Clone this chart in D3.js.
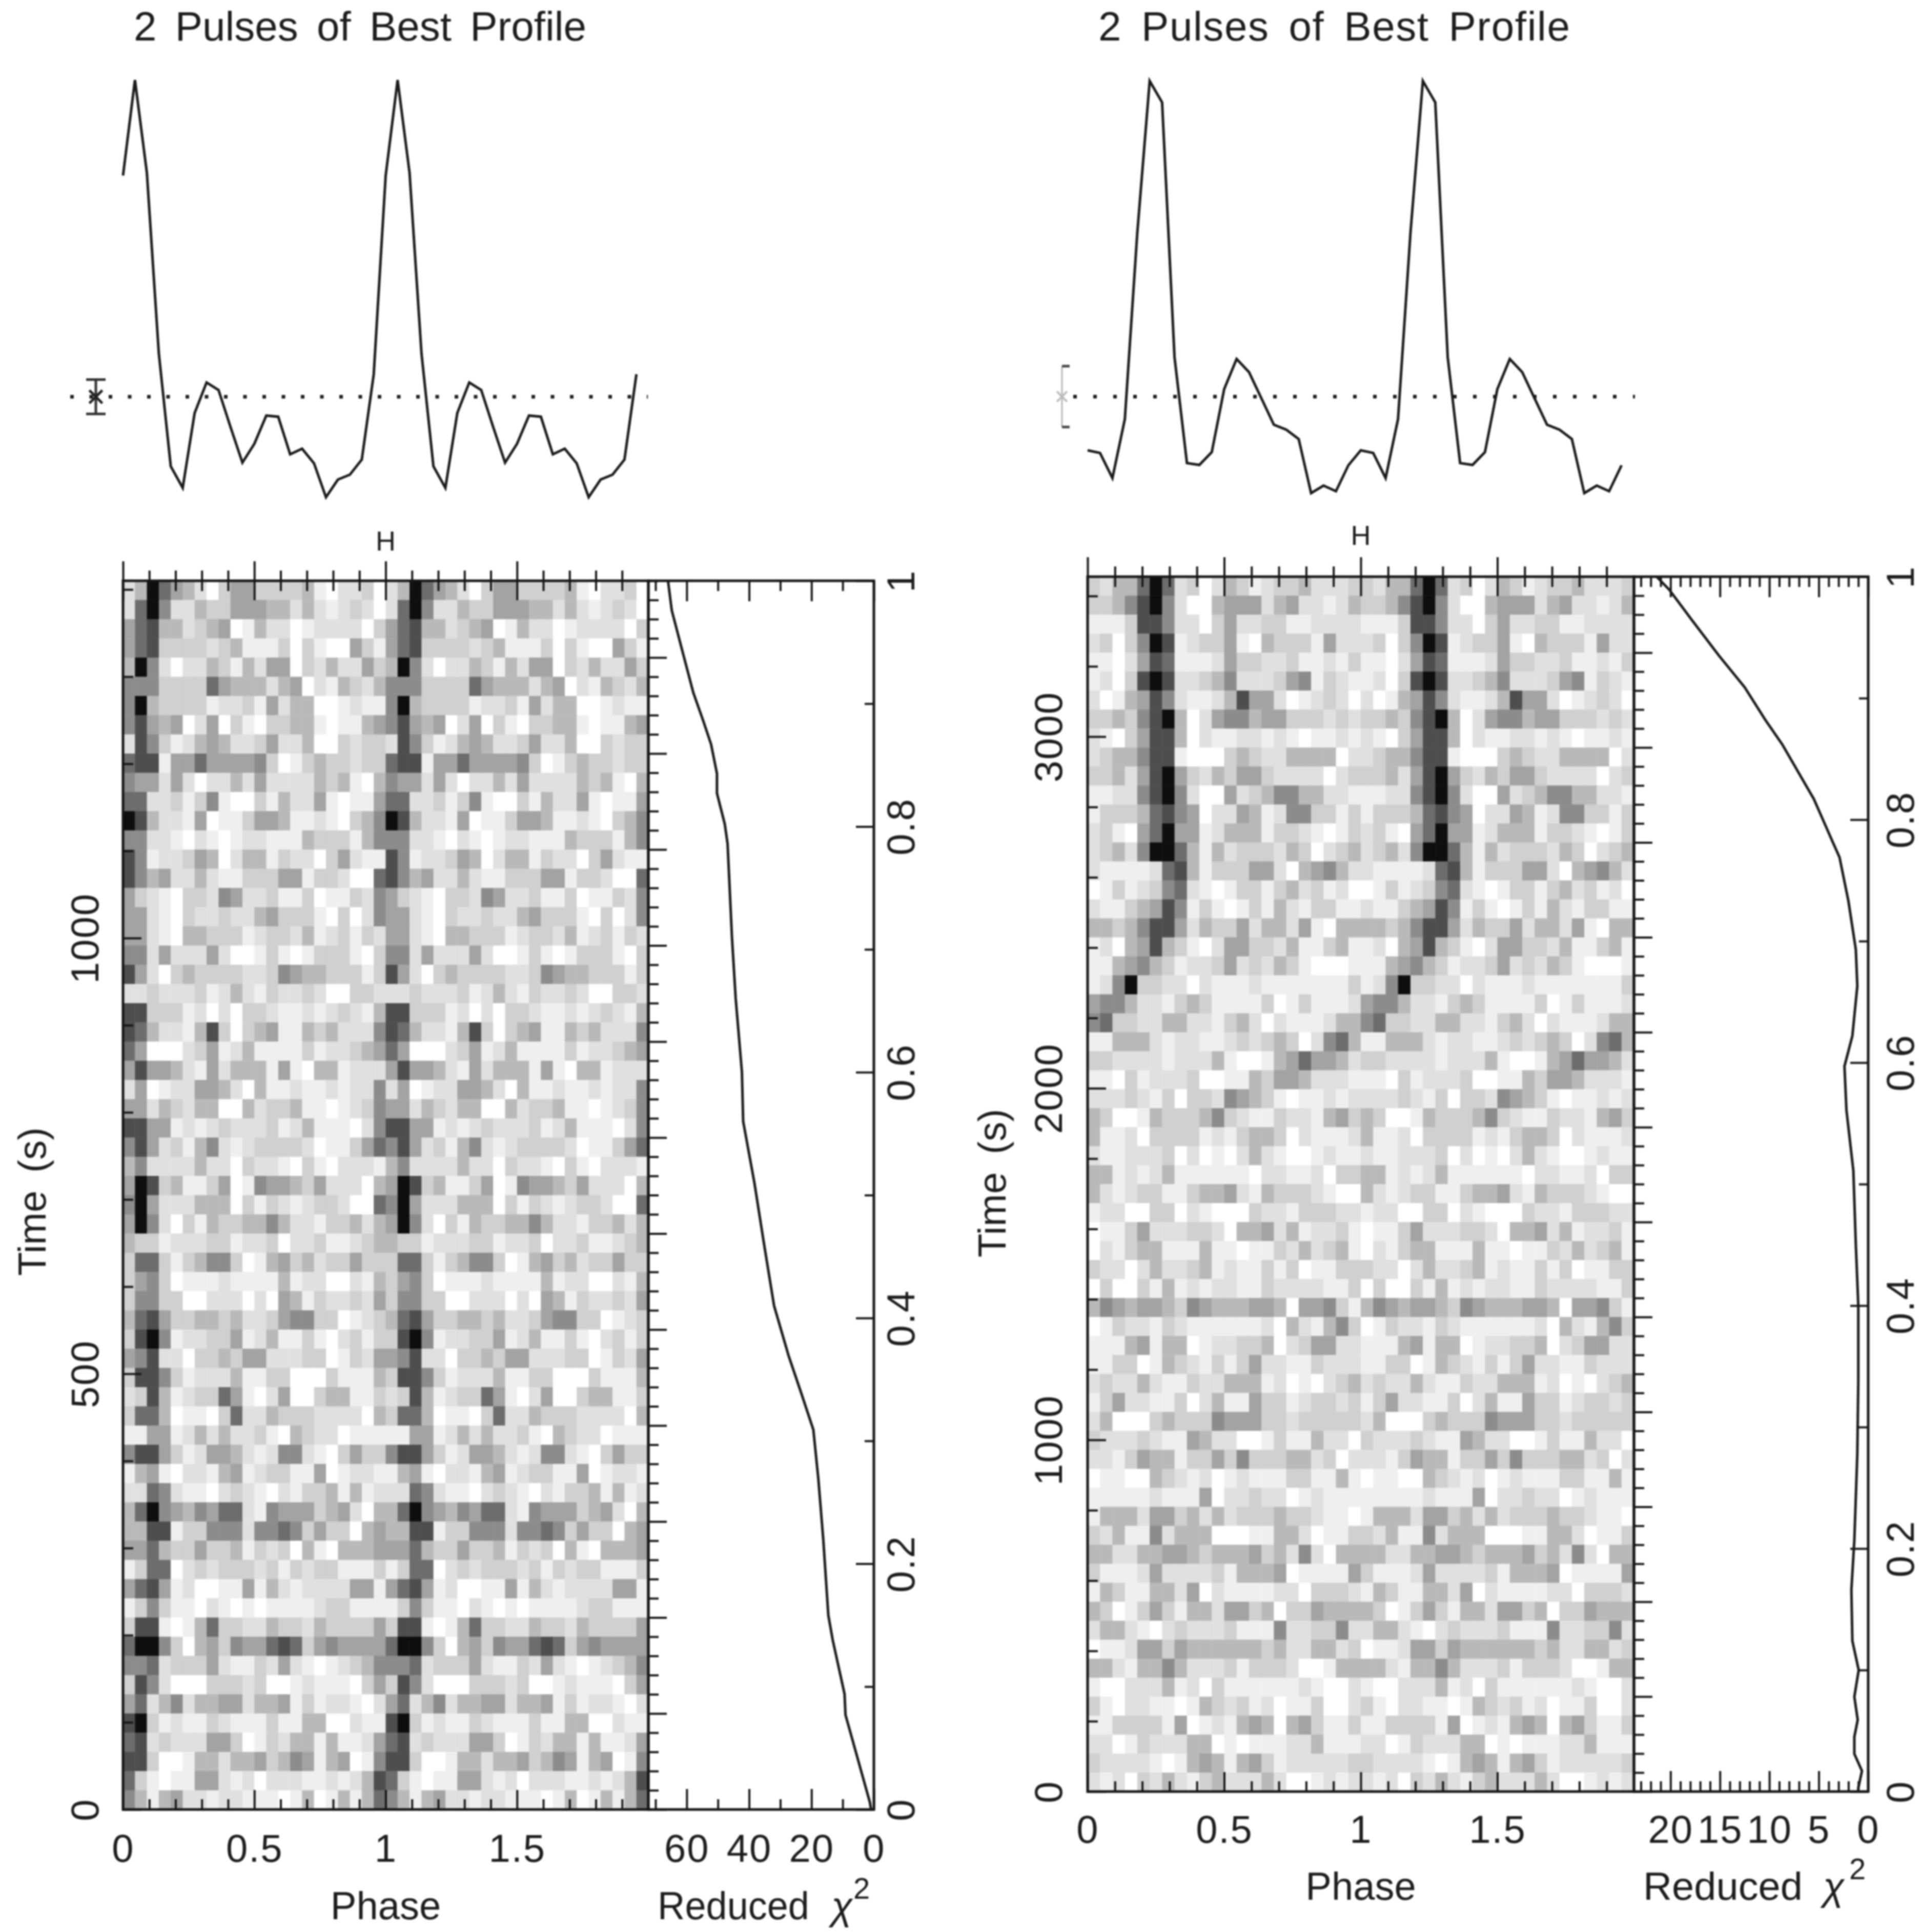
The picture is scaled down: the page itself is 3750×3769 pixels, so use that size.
<!DOCTYPE html>
<html>
<head>
<meta charset="utf-8">
<script src="https://cdn.jsdelivr.net/npm/d3@7"></script>
<style>
  html, body { margin: 0; background: #fff; }
  svg { display: block; filter: blur(1.5px); }
  text { font-family: "Liberation Sans", sans-serif; fill: #1c1c1c; }
  .tick line { stroke: #151515; }
</style>
</head>
<body>
<script>
// grey level of each sub-integration: 0 white .. 9 black, top row first, one pulse
var leftRows = [
  '24975 42035 533334 102230', '27962 24335 554424 212320', '57844 23450 142201 222203', '57833 33234 111303 100531',
  '49620 22431 425503 242253', '66633 33754 442450 214324', '69433 33122 315244 001211', '68545 02503 103344 101145',
  '28631 24542 235224 003233', '78815 57555 563013 433233', '65525 20224 252222 434104', '77223 13610 031422 510115',
  '98422 15011 355411 210346', '66221 02101 221114 333146', '86122 35402 441322 035211', '86452 24211 333551 332007',
  '53210 33265 223113 011326', '55210 32232 245333 103026', '55210 44333 123324 123132', '66252 22520 013101 333103',
  '85203 43333 223654 433313', '22322 23124 213223 200332', '88333 12020 332112 123214', '87422 14830 345114 342226',
  '75000 23512 411113 122345', '58554 21524 441510 441222', '25012 25542 041121 121226', '55243 24400 423341 101236',
  '88551 21232 223124 111026', '68523 14621 233332 011357', '46222 24220 322103 102221', '59834 11350 165543 522204',
  '69522 24440 313212 332007', '59620 31433 446422 133424', '43312 22331 223022 311234', '37731 34663 014534 233533',
  '35630 11121 111412 200214', '36633 00222 020541 322325', '47853 34434 223566 330123', '38961 22335 124113 102313',
  '56822 03343 552223 301325', '38863 12224 113300 031114', '23841 23375 102500 344113', '37740 11037 224333 222204',
  '11551 24242 231043 220111', '68853 12554 212662 103533', '14510 22145 123311 501221', '22762 11023 210213 341412',
  '47965 46577 216555 345204', '44881 33666 266763 533045', '55743 35334 132304 104445', '13770 23233 323132 331113',
  '57851 20011 514212 222551', '13631 10210 101111 233111', '38810 14733 224332 433335', '79963 04536 557873 565555',
  '66723 33521 132521 012346', '38620 00333 230012 111035', '57246 24455 244513 122102', '89312 11321 113114 400211',
  '78232 22553 013244 141125', '88300 14424 453465 145016', '73101 15521 202221 121248', '64145 22122 111014 014147'
];
var rightRows = [
  '32447 97230 243123 342223', '33468 96200 455524 522124', '11138 86220 352233 112222', '23036 98123 351043 331522',
  '11025 87111 253322 311213', '12038 98223 462223 561321', '20145 86211 248552 012320', '33436 89402 566455 333232',
  '21035 88402 112212 101121', '23446 88100 034322 444402', '33425 89532 435532 222023', '11226 89620 052346 644221',
  '13334 78650 225412 663313', '23105 79551 244413 321013', '23426 99741 423332 430234', '21111 27841 333552 045642',
  '01312 36721 013313 423120', '21134 58613 101314 213311', '44346 88524 335244 251044', '12045 84310 255332 411341',
  '11456 43122 352324 310001', '12693 32202 111211 111113', '56642 21343 111130 131112', '67332 24422 134202 111244',
  '11444 21221 123234 302674', '33222 21222 410014 575542', '11031 22230 011435 542221', '22232 13033 265431 011212',
  '43001 43334 632113 221453', '41120 33331 213443 021112', '21122 23020 102421 001211', '44121 24111 111022 112033',
  '42123 31134 452143 332100', '12200 33021 000322 133322', '01135 22233 204452 412231', '02134 41114 110113 242341',
  '32202 42234 121131 301133', '03003 14121 221132 222113', '46545 54365 444554 055631', '01322 13211 111120 421463',
  '11145 14401 223340 235522', '11330 14321 313522 113222', '23224 21132 244412 010234', '13522 11302 411533 123323',
  '24000 34333 655533 233333', '32223 21154 220013 114220', '22135 44133 536333 442302', '01100 43212 012111 331141',
  '11111 21115 022322 012111', '14442 55342 423334 332110', '32411 62444 000114 420113', '44224 45543 444534 262044',
  '31112 52222 314445 011115', '14311 44250 211112 203332', '43013 53144 255340 335444', '24421 02322 231116 223362',
  '01125 53544 444434 224423', '44214 46422 231333 200144', '10022 24120 311111 121002', '31022 11014 323120 113002',
  '11333 31501 214540 453113', '22013 22244 010111 224111', '32222 10145 414531 222223', '21203 24213 422242 001212'
];

// pulse profile, one period, dotted mean line = 0
var leftProfile = [5.88, 8.42, 5.95, 1.15, -1.85, -2.42, -0.43, 0.38, 0.18, -0.80, -1.75, -1.25, -0.50, -0.53, -1.53, -1.38, -1.77, -2.67, -2.20, -2.07, -1.67, 0.60];
var rightProfile = [-1.43, -1.50, -2.17, -0.60, 4.35, 8.40, 7.83, 1.05, -1.77, -1.82, -1.48, 0.20, 1.00, 0.65, -0.05, -0.75, -0.88, -1.13, -2.57, -2.37, -2.52, -1.83];

// reduced chi2 against fraction of observation
var leftChi = [66.0, 64.8, 61.0, 57.9, 54.7, 52.2, 50.3, 50.3, 47.8, 46.9, 45.5, 44.3, 42.3, 41.9, 38.3, 35.2, 32.0, 27.3, 23.3, 19.4, 17.8, 16.2, 14.6, 13.2, 9.4, 9.1, 1.3, 0.9];
var leftFrac = [1, .976, .939, .909, .886, .867, .843, .827, .802, .786, .71, .66, .60, .56, .51, .46, .41, .369, .339, .309, .269, .219, .158, .138, .094, .077, .006, 0];
var rightChi = [21.4, 20.1, 17.9, 15.1, 12.5, 10.4, 8.7, 5.5, 3.5, 2.9, 2.0, 1.25, 1.1, 1.6, 2.4, 2.2, 1.5, 1.25, 1.0, 1.0, 1.1, 1.4, 1.7, 1.6, 0.96, 1.4, 1.06, 1.4, 1.4, 0.63, 1.0, 1.0];
var rightFrac = [1, .989, .965, .935, .909, .882, .862, .817, .78, .769, .733, .693, .663, .622, .597, .561, .511, .45, .40, .338, .278, .207, .166, .124, .10, .078, .059, .045, .031, .017, .003, 0];

var phaseLabels = [0, 0.5, 1, 1.5];
var fracLabels = [0, 0.2, 0.4, 0.6, 0.8, 1];
var leftTimeLabels = [0, 500, 1000];
var rightTimeLabels = [0, 1000, 2000, 3000];
var leftChiLabels = [60, 40, 20, 0];
var rightChiLabels = [20, 15, 10, 5, 0];

var svg = d3.select('body').append('svg')
  .attr('width', 3750)
  .attr('height', 3769);

var grey = d3.scaleLinear()
  .domain([0, 3, 6, 8, 9])
  .range(['#ffffff', '#d0d0d0', '#8c8c8c', '#4e4e4e', '#0e0e0e']);

// a row of tick marks through d3's axis, no labels, no domain line
function marks(axis, scale, values, size, x0, y0, width) {
  svg.append('g')
    .attr('transform', 'translate(' + x0 + ',' + y0 + ')')
    .call(axis(scale).tickValues(values).tickSize(size).tickFormat(''))
    .call(g => g.select('.domain').remove())
    .selectAll('line').style('stroke-width', width);
}

function multiples(lo, hi, step, skip) {
  return d3.range(Math.ceil(lo / step), Math.floor(hi / step) + 1)
    .filter(i => !skip || i % skip !== 0)
    .map(i => i * step);
}

function rotatedLabels(scale, values, x, format) {
  svg.append('g')
    .call(d3.axisLeft(scale).tickValues(values).tickSize(0).tickFormat(format))
    .call(g => g.select('.domain').remove())
    .selectAll('text')
    .attr('x', null).attr('dy', null)
    .attr('transform', 'translate(' + x + ',0) rotate(-90)')
    .attr('y', 0)
    .attr('text-anchor', 'middle')
    .style('font-size', '76px')
    .style('letter-spacing', '2px');
}

function drawPanel(p) {
  var x = d3.scaleLinear().domain([0, 2]).range([p.left, p.mid]);
  var t = d3.scaleLinear().domain([0, p.tMax]).range([p.bottom, p.top]);
  var sub = d3.scaleLinear().domain([0, 64]).range([p.bottom, p.top]);
  var chi = d3.scaleLinear().domain([p.chiMax, 0]).range([p.mid, p.right]);
  var frac = d3.scaleLinear().domain([0, 1]).range([p.bottom, p.top]);
  var cols = d3.scaleBand().domain(d3.range(44)).range([p.left, p.mid]);
  var rows = d3.scaleBand().domain(d3.range(64)).range([p.top, p.bottom]);
  var y = d3.scaleLinear().domain(d3.extent(p.profile)).range(p.profileRange);

  // greyscale
  var cells = [];
  p.rows.forEach(function (row, r) {
    var levels = row.replace(/ /g, '');
    d3.range(44).forEach(function (c) {
      cells.push({ r: r, c: c, v: +levels[c % 22] });
    });
  });
  svg.append('g').selectAll('rect')
    .data(cells)
    .enter()
    .append('rect')
    .attr('x', d => cols(d.c))
    .attr('y', d => rows(d.r))
    .attr('width', cols.bandwidth() + 0.5)
    .attr('height', rows.bandwidth() + 0.5)
    .attr('fill', d => grey(d.v));

  // frames
  svg.append('rect').attr('x', p.left).attr('y', p.top)
    .attr('width', p.mid - p.left).attr('height', p.bottom - p.top)
    .attr('fill', 'none').attr('stroke', '#151515').attr('stroke-width', 5);
  svg.append('rect').attr('x', p.mid).attr('y', p.top)
    .attr('width', p.right - p.mid).attr('height', p.bottom - p.top)
    .attr('fill', 'none').attr('stroke', '#151515').attr('stroke-width', 5);

  // phase ticks
  var phaseMinor = multiples(0, 2, 0.1).filter(d => Math.round(d * 10) % 5 !== 0);
  marks(d3.axisTop, x, phaseLabels, 38, 0, p.top, 4);
  marks(d3.axisBottom, x, phaseLabels, 38, 0, p.top, 4);
  marks(d3.axisTop, x, phaseMinor, 20, 0, p.top, 4);
  marks(d3.axisBottom, x, phaseMinor, 20, 0, p.top, 4);
  marks(d3.axisTop, x, phaseLabels, 38, 0, p.bottom, 4);
  marks(d3.axisTop, x, phaseMinor, 20, 0, p.bottom, 4);

  // time ticks
  marks(d3.axisRight, t, p.timeLabels, 36, p.left, 0, 4);
  marks(d3.axisRight, t, multiples(0, p.tMax, p.tStep).filter(d => p.timeLabels.indexOf(d) < 0), 20, p.left, 0, 4);

  // sub-integration ticks between the two panels
  marks(d3.axisRight, sub, multiples(0, 64, 5), 36, p.mid, 0, 4);
  marks(d3.axisRight, sub, multiples(0, 64, 1, 5), 20, p.mid, 0, 4);

  // chi2 ticks
  marks(d3.axisTop, chi, p.chiLabels, 40, 0, p.bottom, 4);
  marks(d3.axisBottom, chi, p.chiLabels, 40, 0, p.top, 4);
  var chiMinor = multiples(0, p.chiMax, p.chiMinorStep).filter(d => p.chiLabels.indexOf(d) < 0);
  marks(d3.axisTop, chi, chiMinor, 20, 0, p.bottom, 4);
  marks(d3.axisBottom, chi, chiMinor, 20, 0, p.top, 4);

  // fraction ticks
  marks(d3.axisLeft, frac, fracLabels, 35, p.right, 0, 4);
  marks(d3.axisLeft, frac, [0.1, 0.3, 0.5, 0.7, 0.9], 18, p.right, 0, 4);

  // labels under the panels
  [[x, phaseLabels], [chi, p.chiLabels]].forEach(function (a) {
    svg.append('g')
      .attr('transform', 'translate(0,' + p.tickBase + ')')
      .call(d3.axisBottom(a[0]).tickValues(a[1]).tickSize(0).tickFormat(d3.format('~g')))
      .call(g => g.select('.domain').remove())
      .selectAll('text')
      .attr('y', 0).attr('dy', null)
      .style('font-size', '76px')
      .style('letter-spacing', '2px');
  });
  rotatedLabels(t, p.timeLabels, p.timeBase, d3.format('d'));
  rotatedLabels(frac, fracLabels, p.fracBase, d3.format('~g'));

  svg.append('text').text('Phase')
    .attr('x', x(1)).attr('y', p.labelBase)
    .attr('text-anchor', 'middle').style('font-size', '76px');
  svg.append('text').text('Reduced')
    .attr('x', p.chiText[0]).attr('y', p.labelBase)
    .style('font-size', '76px').attr('textLength', p.chiText[3]).attr('lengthAdjust', 'spacingAndGlyphs');
  svg.append('text').text('χ')
    .attr('x', p.chiText[1]).attr('y', p.labelBase)
    .style('font-size', '76px').style('font-style', 'italic');
  svg.append('text').text('2')
    .attr('x', p.chiText[2]).attr('y', p.labelBase - 40)
    .style('font-size', '58px');
  svg.append('text').text('Time (s)')
    .attr('transform', 'translate(' + p.titleBase + ',' + p.timeMid + ') rotate(-90)')
    .attr('text-anchor', 'middle').style('font-size', '76px').style('word-spacing', '14px');
  svg.append('text').text('2 Pulses of Best Profile')
    .attr('x', p.titleX).attr('y', 79)
    .style('font-size', '80px').style('letter-spacing', p.titleSpacing).style('word-spacing', '14px');
  svg.append('text').text('H')
    .attr('x', x(1)).attr('y', p.hBase)
    .attr('text-anchor', 'middle').style('font-size', '54px');

  // profile, two pulses
  var pulses = p.profile.concat(p.profile);
  svg.append('path')
    .datum(pulses)
    .attr('fill', 'none').attr('stroke', '#1a1a1a').attr('stroke-width', 5)
    .attr('d', d3.line().x((d, i) => x(i / 22)).y(d => y(d)));

  // mean line
  svg.append('line')
    .attr('x1', p.dotted[0]).attr('x2', p.dotted[1])
    .attr('y1', y(0)).attr('y2', y(0))
    .attr('stroke', '#1a1a1a').attr('stroke-width', 7)
    .attr('stroke-dasharray', p.dotted[2]);

  // error bar
  var ex = p.errX;
  if (p.errStyle === 'full') {
    svg.append('path')
      .attr('fill', 'none').attr('stroke', '#333').attr('stroke-width', 5)
      .attr('d', 'M' + (ex - 19) + ',' + y(p.err) + 'H' + (ex + 19)
        + 'M' + (ex - 19) + ',' + y(-p.err) + 'H' + (ex + 19)
        + 'M' + ex + ',' + y(p.err) + 'V' + y(-p.err));
    svg.append('path')
      .attr('transform', 'translate(' + ex + ',' + y(0) + ')')
      .attr('fill', 'none').attr('stroke', '#222').attr('stroke-width', 5)
      .attr('d', d3.symbol(d3.symbolTimes, 420)());
  } else {
    svg.append('path')
      .attr('fill', 'none').attr('stroke', '#b5b5b5').attr('stroke-width', 3)
      .attr('d', 'M' + ex + ',' + y(p.err) + 'V' + y(-p.err));
    svg.append('path')
      .attr('fill', 'none').attr('stroke', '#444').attr('stroke-width', 5)
      .attr('d', 'M' + ex + ',' + y(p.err) + 'H' + (ex + 15)
        + 'M' + ex + ',' + y(-p.err) + 'H' + (ex + 15));
    svg.append('path')
      .attr('transform', 'translate(' + ex + ',' + y(0) + ')')
      .attr('fill', 'none').attr('stroke', '#bbb').attr('stroke-width', 4)
      .attr('d', d3.symbol(d3.symbolTimes, 260)());
  }

  // chi2 curve
  svg.append('path')
    .datum(p.chi)
    .attr('fill', 'none').attr('stroke', '#1a1a1a').attr('stroke-width', 5)
    .attr('d', d3.line().x(d => chi(d)).y((d, i) => frac(p.frac[i])));
}

drawPanel({
  left: 240, mid: 1265, right: 1705, top: 1133, bottom: 3530,
  tMax: 1410, tStep: 100, timeLabels: leftTimeLabels,
  chiMax: 72.3, chiMinorStep: 10, chiLabels: leftChiLabels,
  rows: leftRows, profile: leftProfile, profileRange: [970, 156],
  chi: leftChi, frac: leftFrac,
  tickBase: 3632, labelBase: 3744, timeBase: 192, fracBase: 1784,
  titleBase: 89, timeMid: 2344, titleX: 261, titleSpacing: '0px', hBase: 1074,
  chiText: [1283, 1622, 1665, 296],
  dotted: [137, 1264, '7 30.5'], err: 0.457, errX: 187, errStyle: 'full'
});

drawPanel({
  left: 2122, mid: 3188, right: 3645, top: 1125, bottom: 3495,
  tMax: 3455, tStep: 200, timeLabels: rightTimeLabels,
  chiMax: 23.7, chiMinorStep: 1, chiLabels: rightChiLabels,
  rows: rightRows, profile: rightProfile, profileRange: [962, 158],
  chi: rightChi, frac: rightFrac,
  tickBase: 3595, labelBase: 3706, timeBase: 2072, fracBase: 3734,
  titleBase: 1962, timeMid: 2308, titleX: 2143, titleSpacing: '1.6px', hBase: 1063,
  chiText: [3206, 3557, 3608, 311],
  dotted: [2094, 3190, '7 32'], err: 0.81, errX: 2072, errStyle: 'bracket'
});
</script>
</body>
</html>
